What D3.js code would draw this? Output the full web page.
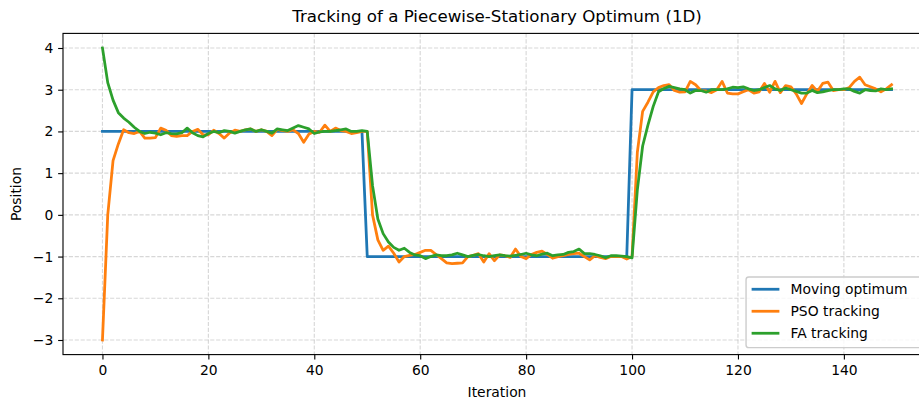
<!DOCTYPE html>
<html>
<head>
<meta charset="utf-8">
<script src="https://cdn.jsdelivr.net/npm/d3@7"></script>
<style>
  html, body { margin: 0; padding: 0; background: #fff; overflow: hidden; }
  svg { display: block; font-family: "DejaVu Sans", sans-serif; }
</style>
</head>
<body>
<div id="chart"></div>
<script>
// --- data ---
var title = "Tracking of a Piecewise-Stationary Optimum (1D)";
var xLabel = "Iteration";
var yLabel = "Position";
var xTicks = [0, 20, 40, 60, 80, 100, 120, 140];
var yTicks = [-3, -2, -1, 0, 1, 2, 3, 4];
var seriesNames = ["Moving optimum", "PSO tracking", "FA tracking"];
var seriesColors = ["#1f77b4", "#ff7f0e", "#2ca02c"];

var movingOptimum = [
  2, 2, 2, 2, 2, 2, 2, 2, 2, 2, 2, 2, 2, 2, 2, 2, 2, 2, 2, 2, 2, 2, 2, 2, 2,
  2, 2, 2, 2, 2, 2, 2, 2, 2, 2, 2, 2, 2, 2, 2, 2, 2, 2, 2, 2, 2, 2, 2, 2, 2,
  -1, -1, -1, -1, -1, -1, -1, -1, -1, -1, -1, -1, -1, -1, -1, -1, -1, -1, -1, -1, -1, -1, -1, -1, -1,
  -1, -1, -1, -1, -1, -1, -1, -1, -1, -1, -1, -1, -1, -1, -1, -1, -1, -1, -1, -1, -1, -1, -1, -1, -1,
  3, 3, 3, 3, 3, 3, 3, 3, 3, 3, 3, 3, 3, 3, 3, 3, 3, 3, 3, 3, 3, 3, 3, 3, 3,
  3, 3, 3, 3, 3, 3, 3, 3, 3, 3, 3, 3, 3, 3, 3, 3, 3, 3, 3, 3, 3, 3, 3, 3, 3
];

var psoTracking = [
  -3.0, 0.0, 1.3, 1.7, 2.04, 1.97, 1.95, 2.0, 1.84, 1.84,
  1.85, 2.08, 2.03, 1.9, 1.88, 1.9, 1.9, 2.0, 2.05, 1.92,
  1.92, 2.03, 1.95, 1.84, 1.96, 2.03, 2.0, 2.04, 2.06, 2.0,
  2.04, 2.0, 1.9, 2.05, 2.02, 2.0, 2.04, 1.95, 1.74, 1.94,
  2.0, 1.98, 2.15, 2.0, 2.08, 2.02, 2.0, 1.95, 1.97, 2.0,
  2.0, 0.0, -0.6, -0.85, -0.75, -0.92, -1.13, -1.0, -0.97, -0.95,
  -0.9, -0.85, -0.85, -0.95, -1.05, -1.15, -1.17, -1.16, -1.15, -1.0,
  -0.97, -0.93, -1.13, -0.93, -1.1, -0.96, -0.98, -1.02, -0.82, -1.0,
  -1.05, -0.95, -0.9, -0.87, -0.95, -1.04, -1.0, -0.98, -0.95, -0.93,
  -0.92, -1.0, -1.08, -0.98, -1.02, -1.05, -1.0, -1.0, -1.0, -1.06,
  -1.0, 1.5, 2.48, 2.7, 2.95, 3.05, 3.1, 3.12, 2.98, 2.94,
  2.95, 3.2, 3.12, 2.98, 2.97, 2.93, 3.0, 3.2, 2.92, 2.9,
  2.9, 2.95, 3.0, 2.92, 2.95, 3.15, 2.94, 3.2, 2.93, 3.1,
  3.07, 2.9, 2.67, 2.9, 3.1, 2.96, 3.15, 3.18, 2.98, 3.0,
  3.0, 3.05, 3.2, 3.3, 3.12, 3.07, 3.02, 2.95, 3.02, 3.12
];

var faTracking = [
  4.0, 3.17, 2.75, 2.45, 2.32, 2.22, 2.1, 2.0, 1.95, 1.98,
  1.96, 1.92, 1.97, 1.95, 1.94, 1.97, 2.08, 1.97, 1.9, 1.87,
  1.95, 2.0, 1.97, 2.02, 2.0, 1.96, 2.0, 2.04, 2.06, 2.0,
  2.04, 2.0, 1.96, 2.06, 2.04, 2.02, 2.08, 2.14, 2.1, 2.06,
  1.95, 1.99, 2.0, 2.0, 2.02, 2.04, 2.06, 2.0, 2.0, 2.02,
  2.0, 0.7, -0.1, -0.45, -0.65, -0.78, -0.85, -0.8, -0.9, -0.96,
  -0.98, -1.05, -1.0, -0.96, -0.98, -0.98, -0.96, -0.92, -0.96, -1.0,
  -0.97, -0.95, -0.98, -1.0, -0.98, -0.96, -0.98, -0.99, -0.97, -0.95,
  -0.92, -0.96, -0.98, -0.94, -0.92, -0.98, -0.96, -0.95, -0.9, -0.88,
  -0.82, -0.93, -0.93, -0.95, -0.98, -1.03, -0.98, -0.98, -0.99, -1.0,
  -1.03, 0.6, 1.65, 2.15, 2.6, 2.95, 3.03, 3.08, 3.05, 3.02,
  3.0, 2.92, 2.98, 2.98, 2.94, 3.0, 3.0, 3.0, 3.02, 3.06,
  3.05, 3.07, 3.02, 2.98, 3.0, 3.05, 3.1, 3.02, 2.98, 3.04,
  3.0, 2.96, 2.92, 2.92, 2.98, 2.93, 2.95, 2.98, 3.0, 3.0,
  3.02, 3.02, 2.96, 2.92, 3.0, 2.98, 2.97, 3.02, 3.0, 3.02
];

var allSeries = [movingOptimum, psoTracking, faTracking];

// --- layout (matplotlib look, dpi 100) ---
var W = 919, H = 400;
var plot = { left: 63, right: 931, top: 33.4, bottom: 354.6 };
var pt = 100 / 72;

var svg = d3.select("#chart").append("svg")
    .attr("width", W).attr("height", H);

var n = movingOptimum.length;
var x = d3.scaleLinear()
    .domain([-(n - 1) * 0.05, (n - 1) * 1.05])
    .range([plot.left, plot.right]);
var y = d3.scaleLinear()
    .domain([-3.35, 4.35])
    .range([plot.bottom, plot.top]);

// grid
var grid = svg.append("g")
    .attr("stroke", "#b0b0b0")
    .attr("stroke-opacity", 0.5)
    .attr("stroke-width", 0.8 * pt)
    .attr("stroke-dasharray", (3.7 * 0.8 * pt) + "," + (1.6 * 0.8 * pt));
grid.selectAll("line.gx").data(xTicks).enter().append("line")
    .attr("x1", function (d) { return x(d); }).attr("x2", function (d) { return x(d); })
    .attr("y1", plot.top).attr("y2", plot.bottom);
grid.selectAll("line.gy").data(yTicks).enter().append("line")
    .attr("y1", function (d) { return y(d); }).attr("y2", function (d) { return y(d); })
    .attr("x1", plot.left).attr("x2", plot.right);

// series lines
var line = d3.line()
    .x(function (d, i) { return x(i); })
    .y(function (d) { return y(d); });

svg.append("g").selectAll("path").data(allSeries).enter().append("path")
    .attr("d", line)
    .attr("fill", "none")
    .attr("stroke", function (d, i) { return seriesColors[i]; })
    .attr("stroke-width", 2 * pt)
    .attr("stroke-linejoin", "round")
    .attr("stroke-linecap", "square");

// axes
var tickLen = 3.5 * pt;
var xAxis = d3.axisBottom(x).tickValues(xTicks).tickSize(tickLen).tickPadding(3.5 * pt)
    .tickFormat(d3.format("d"));
var yAxis = d3.axisLeft(y).tickValues(yTicks).tickSize(tickLen).tickPadding(3.5 * pt)
    .tickFormat(d3.format("d"));

var gx = svg.append("g").attr("transform", "translate(0," + plot.bottom + ")").call(xAxis);
var gy = svg.append("g").attr("transform", "translate(" + plot.left + ",0)").call(yAxis);
[gx, gy].forEach(function (g) {
    g.select(".domain").remove();
    g.selectAll(".tick line").attr("stroke", "#000").attr("stroke-width", 0.8 * pt);
    g.selectAll(".tick text").attr("fill", "#000")
        .style("font-family", "DejaVu Sans").style("font-size", (10 * pt) + "px");
});
gx.selectAll(".tick text").attr("dy", "0.76em");

// spines
svg.append("rect")
    .attr("x", plot.left).attr("y", plot.top)
    .attr("width", plot.right - plot.left).attr("height", plot.bottom - plot.top)
    .attr("fill", "none").attr("stroke", "#000").attr("stroke-width", 0.8 * pt);

// title and axis labels
svg.append("text")
    .attr("x", (plot.left + plot.right) / 2).attr("y", plot.top - 6 * pt - 3)
    .attr("text-anchor", "middle")
    .style("font-size", (12 * pt) + "px")
    .text(title);

svg.append("text")
    .attr("x", (plot.left + plot.right) / 2).attr("y", 397)
    .attr("text-anchor", "middle")
    .style("font-size", (10 * pt) + "px")
    .text(xLabel);

svg.append("text")
    .attr("transform", "translate(21," + ((plot.top + plot.bottom) / 2) + ") rotate(-90)")
    .attr("text-anchor", "middle")
    .style("font-size", (10 * pt) + "px")
    .text(yLabel);

// legend (lower right)
var fs = 10 * pt;
var legW = 178, legH = 70.7;
var legX = plot.right - 0.5 * fs - legW, legY = plot.bottom - 0.5 * fs - legH;
var leg = svg.append("g").attr("transform", "translate(" + legX + "," + legY + ")");
leg.append("rect")
    .attr("width", legW).attr("height", legH)
    .attr("rx", 0.2 * fs).attr("ry", 0.2 * fs)
    .attr("fill", "#fff").attr("fill-opacity", 0.8)
    .attr("stroke", "#cccccc").attr("stroke-width", 1 * pt);
var rows = leg.selectAll("g.row").data(seriesNames).enter().append("g")
    .attr("transform", function (d, i) { return "translate(0," + (12.3 + i * 22) + ")"; });
rows.append("line")
    .attr("x1", 0.4 * fs).attr("x2", 0.4 * fs + 2 * fs)
    .attr("stroke", function (d, i) { return seriesColors[i]; })
    .attr("stroke-width", 2 * pt);
rows.append("text")
    .attr("x", 0.4 * fs + 2.8 * fs).attr("dy", "0.35em")
    .style("font-size", fs + "px")
    .text(function (d) { return d; });
</script>
</body>
</html>
